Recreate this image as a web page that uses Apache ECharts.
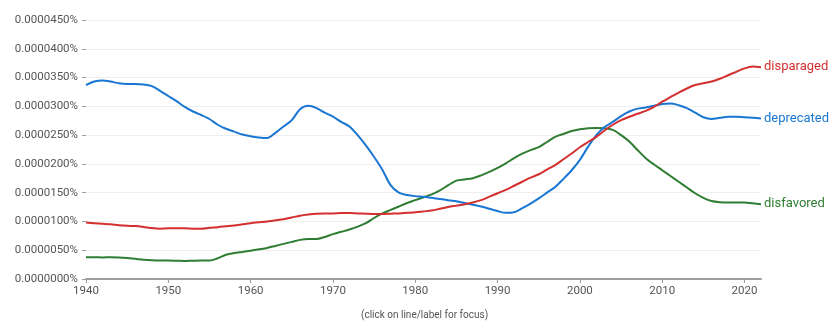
<!DOCTYPE html>
<html>
<head>
<meta charset="utf-8">
<script src="https://cdn.jsdelivr.net/npm/echarts@6/dist/echarts.min.js"></script>
<style>
html,body{margin:0;padding:0;background:#fff;}
#chart{width:840px;height:336px;}
</style>
</head>
<body>
<div id="chart"></div>
<script>
// Years 1940..2022; values in units of 0.000001 %
const startYear = 1940;
const endYear = 2022;
const xTicks = [1940, 1950, 1960, 1970, 1980, 1990, 2000, 2010, 2020];
const yTickStep = 5;
const yMax = 45;

const disparaged = [
  9.8, 9.7, 9.6, 9.5, 9.35, 9.25, 9.2, 9.05, 8.85, 8.75,
  8.8, 8.8, 8.8, 8.75, 8.75, 8.9, 9.0, 9.15, 9.3, 9.5,
  9.7, 9.85, 10.0, 10.2, 10.4, 10.7, 11.0, 11.2, 11.35, 11.4,
  11.4, 11.45, 11.45, 11.4, 11.35, 11.3, 11.3, 11.35, 11.4, 11.5,
  11.6, 11.75, 11.9, 12.2, 12.5, 12.75, 13.0, 13.3, 13.7, 14.3,
  14.9, 15.5, 16.2, 16.9, 17.6, 18.2, 19.0, 19.8, 20.8, 21.8,
  22.9, 23.8, 24.7, 25.8, 26.8, 27.6, 28.2, 28.7, 29.2, 29.9,
  30.8, 31.6, 32.4, 33.1, 33.7, 34.0, 34.3, 34.8, 35.4, 36.0,
  36.6, 36.9, 36.8
];

const deprecated = [
  33.7, 34.3, 34.5, 34.3, 34.0, 33.9, 33.9, 33.8, 33.5, 32.7,
  31.8, 30.9, 29.9, 29.1, 28.5, 27.8, 26.8, 26.1, 25.6, 25.1,
  24.8, 24.6, 24.5, 25.4, 26.5, 27.6, 29.5, 30.1, 29.7, 28.9,
  28.2, 27.3, 26.5, 25.0, 23.2, 21.2, 19.0, 16.3, 15.0, 14.6,
  14.4, 14.3, 14.1, 13.9, 13.7, 13.5, 13.2, 12.9, 12.6, 12.2,
  11.8, 11.5, 11.6, 12.3, 13.1, 14.0, 15.0, 16.0, 17.4, 18.9,
  20.7, 23.0, 25.0, 26.4, 27.3, 28.3, 29.1, 29.6, 29.8, 30.1,
  30.4, 30.5, 30.2, 29.7, 28.9, 28.1, 27.8, 28.0, 28.2, 28.2,
  28.1, 28.0, 27.9
];

const disfavored = [
  3.77, 3.8, 3.75, 3.8, 3.75, 3.65, 3.5, 3.35, 3.25, 3.2,
  3.2, 3.17, 3.13, 3.17, 3.2, 3.2, 3.6, 4.2, 4.5, 4.7,
  4.9, 5.15, 5.4, 5.75, 6.1, 6.45, 6.8, 6.95, 6.95, 7.3,
  7.8, 8.2, 8.6, 9.1, 9.7, 10.6, 11.4, 12.0, 12.6, 13.2,
  13.7, 14.2, 14.7, 15.4, 16.3, 17.1, 17.3, 17.5, 18.0, 18.6,
  19.3, 20.1, 21.0, 21.8, 22.4, 22.9, 23.8, 24.7, 25.2, 25.7,
  26.0, 26.2, 26.25, 26.2, 25.9, 25.0, 23.9, 22.4, 21.0, 19.9,
  18.9, 17.9, 16.9, 15.9, 14.9, 14.1, 13.55, 13.35, 13.3, 13.3,
  13.3, 13.15, 13.0
];

const seriesNames = ['disparaged', 'deprecated', 'disfavored'];
const seriesColors = ['#d32f2f', '#1976d2', '#2e7d32'];
const seriesValues = [disparaged, deprecated, disfavored];

function toPairs(arr) {
  return arr.map((v, i) => [startYear + i, v]);
}

const chart = echarts.init(document.getElementById('chart'), null, {renderer: 'canvas'});
const FONT = 'Roboto, "Noto Sans", sans-serif';

chart.setOption({
  animation: false,
  backgroundColor: '#fff',
  grid: {left: 86, right: 79, top: 20, bottom: 57, containLabel: false},
  xAxis: {
    type: 'value',
    min: startYear,
    max: endYear,
    interval: 10,
    axisLine: {show: true, lineStyle: {color: '#9e9e9e', width: 2}},
    axisTick: {show: true, length: 4, lineStyle: {color: '#9e9e9e', width: 1}},
    splitLine: {show: false},
    axisLabel: {
      color: '#555', fontSize: 11.5, fontFamily: FONT, margin: 6,
      showMaxLabel: false,
      formatter: v => (xTicks.indexOf(v) >= 0 ? String(v) : '')
    }
  },
  yAxis: {
    type: 'value',
    min: 0,
    max: yMax,
    interval: yTickStep,
    axisLine: {show: false},
    axisTick: {show: true, length: 4, lineStyle: {color: '#9e9e9e'}},
    splitLine: {show: true, lineStyle: {color: '#eeeeee', width: 1}},
    axisLabel: {
      color: '#555', fontSize: 11.5, fontFamily: FONT, margin: 8,
      formatter: v => (v * 1e-6).toFixed(7) + '%'
    }
  },
  graphic: [{
    type: 'text',
    left: 423 - 62,
    top: 310,
    style: {text: '(click on line/label for focus)', fill: '#555', font: '10px ' + FONT}
  }],
  series: seriesNames.map((name, i) => ({
    name: name,
    type: 'line',
    data: toPairs(seriesValues[i]),
    showSymbol: false,
    smooth: 0.3,
    lineStyle: {color: seriesColors[i], width: 2},
    itemStyle: {color: seriesColors[i]},
    endLabel: {
      show: true,
      formatter: '{a}',
      color: seriesColors[i],
      fontSize: 13,
      fontFamily: FONT,
      distance: 3
    },
    z: 3 - i
  }))
});
</script>
</body>
</html>
